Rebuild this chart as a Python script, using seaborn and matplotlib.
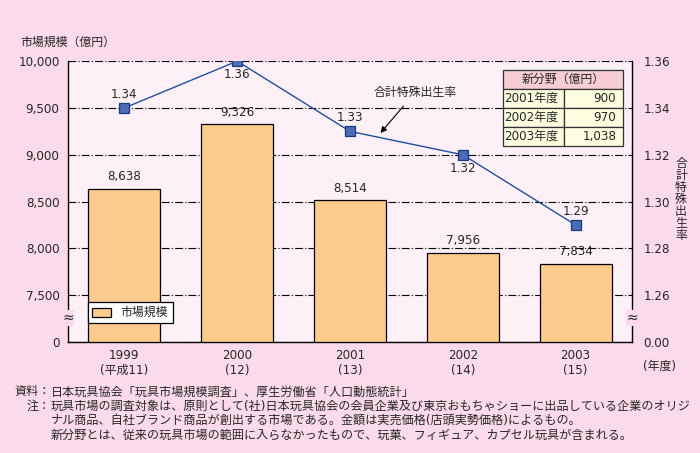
import numpy as np
import pandas as pd
import matplotlib
matplotlib.use('Agg')
import matplotlib.pyplot as plt
from matplotlib.patches import Rectangle
import seaborn as sns

# data
years = ['1999\n(平成11)', '2000\n(12)', '2001\n(13)', '2002\n(14)', '2003\n(15)']
market = [8638, 9326, 8514, 7956, 7834]
tfr = [1.34, 1.36, 1.33, 1.32, 1.29]
tfr_label_pos = ['above', 'below', 'above', 'below', 'above']
left_ticks = [7000, 7500, 8000, 8500, 9000, 9500, 10000]
left_ticklabels = ['0', '7,500', '8,000', '8,500', '9,000', '9,500', '10,000']
right_ticks = [1.24, 1.26, 1.28, 1.30, 1.32, 1.34, 1.36]
right_ticklabels = ['0.00', '1.26', '1.28', '1.30', '1.32', '1.34', '1.36']
new_years = ['2001年度', '2002年度', '2003年度']
new_values = ['900', '970', '1,038']

sns.set_style('white')
plt.rcParams['font.family'] = ['DejaVu Sans', 'Noto Sans CJK JP']
plt.rcParams['font.size'] = 8.6

BG = '#fbdbea'
AX_BG = '#fdf0f6'
BAR = '#fdcb8b'
LINE = '#1f4fa0'

fig = plt.figure(figsize=(7, 4.53), dpi=100)
fig.patch.set_facecolor(BG)
ax = fig.add_axes([0.097, 0.245, 0.806, 0.620])
ax.set_facecolor(AX_BG)

df = pd.DataFrame({'year': years, 'market': market, 'tfr': tfr})
df['height'] = df['market'] - 7000
x = np.arange(len(years))

ax.bar(x, df['height'], bottom=7000, width=0.64, color=BAR, edgecolor='black',
       linewidth=0.9, label='市場規模', zorder=3)
for xi, v in zip(x, market):
    ax.annotate(f'{v:,}', (xi, v), xytext=(0, 4), textcoords='offset points',
                ha='center', va='bottom')

ax.set_xlim(-0.5, len(years) - 0.5)
ax.set_ylim(7000, 10000)
ax.set_yticks(left_ticks)
ax.set_yticklabels(left_ticklabels)
ax.set_xticks(x)
ax.set_xticklabels(years)
ax.set_xticks(x[:-1] + 0.5, minor=True)
ax.tick_params(axis='x', which='major', length=0, pad=5)
ax.tick_params(axis='x', which='minor', length=4, direction='in', width=0.8)
ax.tick_params(axis='y', length=0, pad=6)
ax.yaxis.grid(True, color='black', linestyle=(0, (7, 2, 1, 2)), linewidth=0.8)
ax.set_axisbelow(True)
for side in ['left', 'right', 'bottom']:
    ax.spines[side].set_color('black')
    ax.spines[side].set_linewidth(1.0)
ax.spines['top'].set_visible(False)

leg = ax.legend(loc='lower left', bbox_to_anchor=(0.025, 0.045), frameon=True,
                fancybox=False, edgecolor='black', framealpha=1, borderpad=0.35,
                handlelength=1.6, handleheight=0.8)
leg.get_frame().set_linewidth(0.9)

# second axis
ax2 = ax.twinx()
ax2.set_ylim(1.24, 1.36)
ax2.set_yticks(right_ticks)
ax2.set_yticklabels(right_ticklabels)
ax2.tick_params(axis='y', length=0, pad=8)
for side in ['left', 'right', 'bottom', 'top']:
    ax2.spines[side].set_visible(False)
sns.lineplot(x=x, y=tfr, ax=ax2, color=LINE, linewidth=1.0, marker='s',
             markersize=6.5, markerfacecolor='#4a6db5', markeredgecolor='#1a3a80',
             markeredgewidth=0.9, zorder=5)
for xi, v, pos in zip(x, tfr, tfr_label_pos):
    dy = 5 if pos == 'above' else -5
    ax2.annotate(f'{v:.2f}', (xi, v), xytext=(0, dy), textcoords='offset points',
                 ha='center', va='bottom' if pos == 'above' else 'top')

ax2.annotate('合計特殊出生率', xy=(2.27, 1.3293), xytext=(2.58, 1.3468),
             ha='center', va='center',
             arrowprops=dict(arrowstyle='-|>', color='black', lw=0.8,
                             shrinkA=4, shrinkB=0, mutation_scale=9))

# axis break marks
for xpos in [0, 1]:
    ax.text(xpos, 0.085, '≈', transform=ax.transAxes, ha='center', va='center',
            fontsize=10, clip_on=False, zorder=10,
            bbox=dict(boxstyle='square,pad=0.05', fc=BG, ec='none'))

# inset table (axes coords)
tx0, tsplit, tx1 = 0.771, 0.879, 0.984
ty_top, row_h = 0.968, 0.0675
ax2.add_patch(Rectangle((tx0, ty_top - row_h), tx1 - tx0, row_h, transform=ax2.transAxes,
                        fc='#f9cdd6', ec='#333333', lw=0.9, zorder=8))
ax2.text((tx0 + tx1) / 2, ty_top - row_h / 2, '新分野（億円）', transform=ax2.transAxes,
         ha='center', va='center', zorder=9)
for i, (yr, val) in enumerate(zip(new_years, new_values)):
    yb = ty_top - row_h * (i + 2)
    ax2.add_patch(Rectangle((tx0, yb), tsplit - tx0, row_h, transform=ax2.transAxes,
                            fc='#fdfde0', ec='#333333', lw=0.9, zorder=8))
    ax2.add_patch(Rectangle((tsplit, yb), tx1 - tsplit, row_h, transform=ax2.transAxes,
                            fc='#fdfde0', ec='#333333', lw=0.9, zorder=8))
    ax2.text(tx0 + 0.003, yb + row_h / 2, yr, transform=ax2.transAxes,
             ha='left', va='center', zorder=9)
    ax2.text(tx1 - 0.012, yb + row_h / 2, val, transform=ax2.transAxes,
             ha='right', va='center', zorder=9)

# outer labels
fig.text(20 / 700, 1 - 42 / 453, '市場規模（億円）', ha='left', va='center')
fig.text(681 / 700, 1 - 199 / 453, '\n'.join('合計特殊出生率'), ha='center', va='center',
         linespacing=0.9)
fig.text(660 / 700, 1 - 366 / 453, '(年度)', ha='center', va='center')

# notes
notes = [
    ('資料：', '日本玩具協会「玩具市場規模調査」、厚生労働省「人口動態統計」'),
    ('注：', '玩具市場の調査対象は、原則として(社)日本玩具協会の会員企業及び東京おもちゃショーに出品している企業のオリジ'),
    ('', 'ナル商品、自社ブランド商品が創出する市場である。金額は実売価格(店頭実勢価格)によるもの。'),
    ('', '新分野とは、従来の玩具市場の範囲に入らなかったもので、玩菓、フィギュア、カプセル玩具が含まれる。'),
]
for i, (head, body) in enumerate(notes):
    yy = 1 - (392 + i * 14.3) / 453
    if head:
        fig.text(51 / 700, yy, head, ha='right', va='center', fontsize=8.7)
    fig.text(51 / 700, yy, body, ha='left', va='center', fontsize=8.7)

plt.savefig('out.png', dpi=100, facecolor=BG)
plt.close()
